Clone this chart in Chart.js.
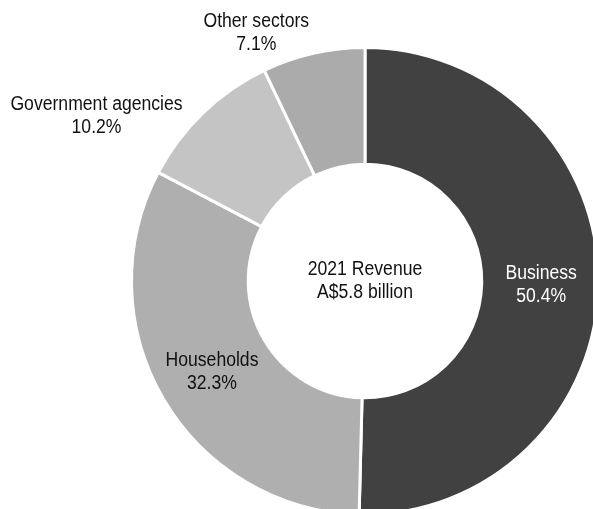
<!DOCTYPE html>
<html>
<head>
<meta charset="utf-8">
<script src="https://cdn.jsdelivr.net/npm/chart.js@4"></script>
<style>
  html, body { margin: 0; padding: 0; background: #fff; overflow: hidden; }
  #wrap { width: 593px; height: 509px; overflow: hidden; position: relative; }
  canvas { position: absolute; left: 0; top: 0; }
</style>
</head>
<body>
<div id="wrap"><canvas id="revenueChart" width="620" height="540"></canvas></div>
<script>
const categories = ["Business", "Households", "Government agencies", "Other sectors"];
const shares = [50.4, 32.3, 10.2, 7.1];
const centerLines = ["2021 Revenue", "A$5.8 billion"];

const sliceColors = ["#414141", "#afafaf", "#c4c4c4", "#ababab"];
const labelColors = ["#ffffff", "#111111", "#111111", "#111111"];
// nudge from each slice's mid point to where its label sits
const labelShift = [[1, 2], [-2, 2], [-147, -39], [-70, -77]];

const FONT = "20px 'Liberation Sans', Arial, sans-serif";
const SQUEEZE = 0.88;
const LINE = 23;

function drawLines(ctx, lines, x, y, color) {
  ctx.save();
  ctx.font = FONT;
  ctx.fillStyle = color;
  ctx.textAlign = "center";
  ctx.textBaseline = "middle";
  const top = y - (lines.length - 1) * LINE / 2;
  lines.forEach((t, i) => {
    ctx.save();
    ctx.translate(x, top + i * LINE);
    ctx.scale(SQUEEZE, 1);
    ctx.fillText(t, 0, 0);
    ctx.restore();
  });
  ctx.restore();
}

const sliceLabels = {
  id: "sliceLabels",
  afterDatasetsDraw(chart) {
    const ctx = chart.ctx;
    const meta = chart.getDatasetMeta(0);
    meta.data.forEach((arc, i) => {
      const p = arc.tooltipPosition();
      const [dx, dy] = labelShift[i];
      drawLines(ctx, [categories[i], shares[i].toFixed(1) + "%"], p.x + dx, p.y + dy, labelColors[i]);
    });
    const a = meta.data[0];
    drawLines(ctx, centerLines, a.x, a.y, "#111111");
  }
};

const ctx = document.getElementById("revenueChart").getContext("2d");
new Chart(ctx, {
  type: "doughnut",
  data: {
    labels: categories,
    datasets: [{
      data: shares,
      backgroundColor: sliceColors,
      borderColor: "#ffffff",
      borderWidth: 3
    }]
  },
  options: {
    responsive: false,
    animation: false,
    cutout: "50%",
    layout: { padding: { left: 130, top: 46, right: 20, bottom: 24 } },
    plugins: {
      legend: { display: false },
      tooltip: { enabled: false }
    }
  },
  plugins: [sliceLabels]
});
</script>
</body>
</html>
